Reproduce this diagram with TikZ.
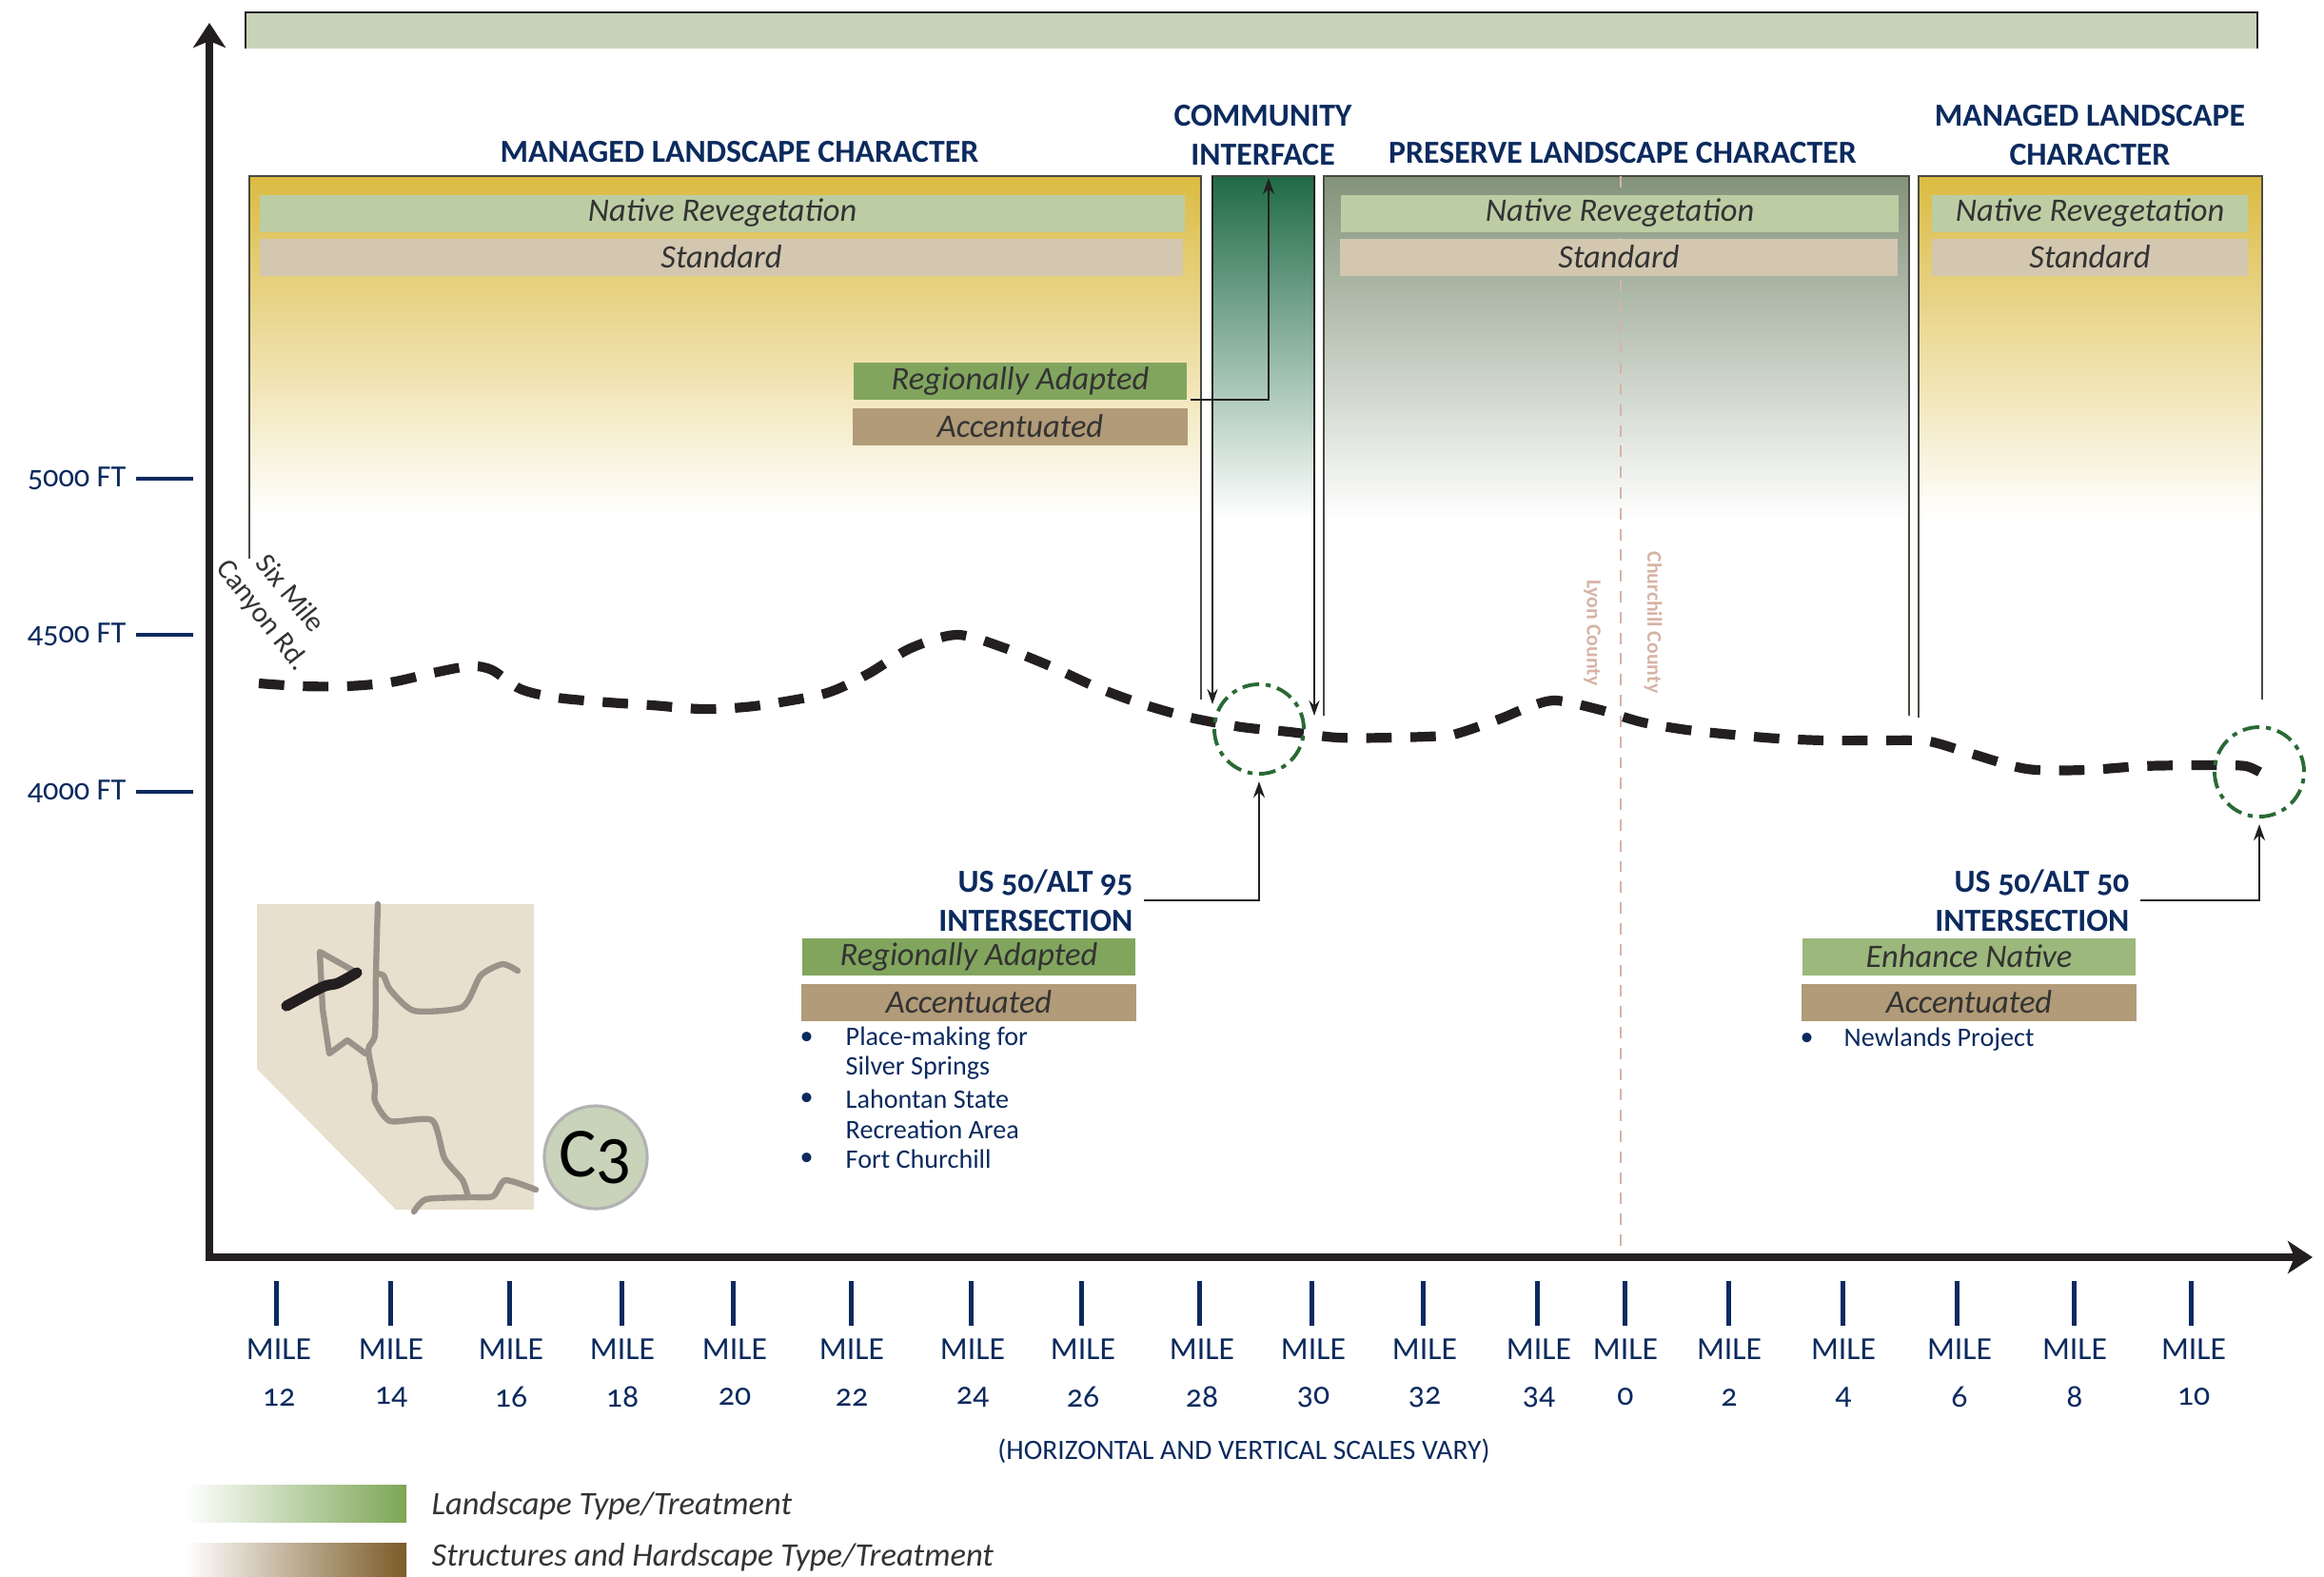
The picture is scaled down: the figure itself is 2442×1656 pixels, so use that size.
\documentclass[tikz,border=0pt]{standalone}
\usepackage{fontspec}
\setmainfont{Carlito}[Numbers=OldStyle]
\usetikzlibrary{arrows.meta}
\definecolor{navy}{HTML}{0B2A5E}
\definecolor{inkblack}{HTML}{231F20}
\definecolor{framegrey}{HTML}{4A4A42}
\definecolor{sage}{HTML}{C9D3BA}
\definecolor{nativegreen}{HTML}{BCCDA4}
\definecolor{standardtan}{HTML}{D3C7B0}
\definecolor{adaptedgreen}{HTML}{82A55E}
\definecolor{enhancegreen}{HTML}{9CB87C}
\definecolor{accentbrown}{HTML}{B19B78}
\definecolor{managedgold}{HTML}{DBBB42}
\definecolor{interfacegreen}{HTML}{1F6B45}
\definecolor{preservegrey}{HTML}{83937A}
\definecolor{countypink}{HTML}{D6B3A6}
\definecolor{circlegreen}{HTML}{2A6A35}
\definecolor{mapsand}{HTML}{E9DFCE}
\definecolor{roadgrey}{HTML}{9C9289}
\definecolor{legendbrown}{HTML}{7B5B28}
\definecolor{legendgreen}{HTML}{7CA655}
\tikzset{
  headlabel/.style={text=navy,align=center,font=\bfseries\fontsize{9.6}{11.7}\selectfont},
  barlabel/.style={inner sep=0pt,text=black!80,font=\itshape\fontsize{9.8}{11}\selectfont},
  frameline/.style={draw=framegrey,line width=.45pt},
  thinarrow/.style={draw=inkblack,line width=.5pt,-{Stealth[length=.16cm,width=.11cm]}},
  callarrow/.style={draw=inkblack,line width=.7pt,-{Stealth[length=.17cm,width=.12cm]}},
  spotcircle/.style={circle,draw=circlegreen,line width=1.1pt,minimum size=.94cm,inner sep=0pt,outer sep=0pt,
    dash pattern=on 5pt off 2pt on 1.5pt off 2pt},
  miletick/.style={fill=navy,inner sep=0pt,minimum width=.05cm,minimum height=.47cm},
  heighttick/.style={fill=navy,inner sep=0pt,minimum width=.6cm,minimum height=.04cm},
  notetext/.style={text=navy,anchor=west,inner sep=0pt,font=\fontsize{8}{10}\selectfont},
  maproad/.style={draw=roadgrey,line width=1.8pt,line cap=round,line join=round},
}
\begin{document}
\begin{tikzpicture}[x=0.01cm,y=-0.01cm]
  \useasboundingbox (0,0) rectangle (2442,1656);
  % band along the top
  \fill[sage] (258,13) rectangle (2372,51);
  \draw[draw=inkblack,line width=.6pt] (258,51) -- (258,13) -- (2372,13) -- (2372,51);
  % character zones
  \shade[top color=managedgold,bottom color=white] (262,185) rectangle (1262,541);
  \shade[top color=interfacegreen,bottom color=white] (1273,185) rectangle (1382,545);
  \shade[top color=preservegrey,bottom color=white] (1391,185) rectangle (2006,545);
  \shade[top color=managedgold,bottom color=white] (2016,185) rectangle (2377,545);
  \draw[frameline] (262,587) -- (262,185) -- (1262,185) -- (1262,735);
  \draw[frameline] (1391,752) -- (1391,185) -- (2006,185) -- (2006,752);
  \draw[frameline] (2016,754) -- (2016,185) -- (2377,185) -- (2377,735);
  \draw[frameline] (1273,185) -- (1382,185);
  \draw[thinarrow] (1274,185) -- (1274,740);
  \draw[thinarrow] (1381,185) -- (1381,752);
  \draw[countypink,line width=.6pt,dash pattern=on 3.4pt off 2.8pt] (1703,185) -- (1703,1318);
  \node[headlabel] (managedA) at (777,160) {MANAGED LANDSCAPE CHARACTER};
  \node[headlabel] (interface) at (1327,142) {COMMUNITY\\INTERFACE};
  \node[headlabel] (preserve) at (1705,161) {PRESERVE LANDSCAPE CHARACTER};
  \node[headlabel] (managedB) at (2196,142) {MANAGED LANDSCAPE\\CHARACTER};
  % treatment bars
  \foreach \name/\barcol/\x/\y/\w/\txt in {
    nativeA/nativegreen/759/224/9.71/Native Revegetation,
    standardA/standardtan/758/270/9.69/Standard,
    adaptedA/adaptedgreen/1072/400/3.50/Regionally Adapted,
    accentA/accentbrown/1072/448/3.52/Accentuated,
    nativeB/nativegreen/1702/224/5.86/Native Revegetation,
    standardB/standardtan/1701/270/5.86/Standard,
    nativeC/nativegreen/2196/224/3.31/Native Revegetation,
    standardC/standardtan/2196/270/3.31/Standard,
    adaptedB/adaptedgreen/1018/1005/3.50/Regionally Adapted,
    accentB/accentbrown/1018/1053/3.52/Accentuated,
    enhanceB/enhancegreen/2069/1005/3.50/Enhance Native,
    accentC/accentbrown/2069/1053/3.52/Accentuated}
    \node[barlabel,fill=\barcol,minimum width=\w cm,minimum height=.39cm] (\name) at (\x,\y) {\txt};
  \coordinate (interfaceTop) at (1333,187);
  \draw[callarrow] ([xshift=.03cm]adaptedA.south east) -| (interfaceTop);
  % county line labels
  \node[text=countypink,rotate=-90,font=\bfseries\fontsize{6.2}{7}\selectfont] (lyon) at (1673,665) {Lyon County};
  \node[text=countypink,rotate=-90,font=\bfseries\fontsize{6.2}{7}\selectfont] (churchill) at (1737,654) {Churchill County};
  % elevation line
  \draw[inkblack,line width=2.9pt,dash pattern=on 7.6pt off 5.6pt] plot[smooth,tension=.5] coordinates {
    (272,718) (318,721) (364,721) (410,717) (455,707) (494,700) (517,704) (547,724) (585,733)
    (639,738) (685,741) (739,745) (792,742) (853,732) (880,724) (914,707) (957,681) (1006,667)
    (1056,681) (1106,701) (1152,722) (1201,740) (1251,754) (1305,764) (1355,769) (1406,775)
    (1464,775) (1518,773) (1537,769) (1577,755) (1606,743) (1635,736) (1682,746) (1726,759)
    (1773,767) (1821,772) (1868,776) (1919,778) (1966,778) (2017,778) (2036,781) (2072,792)
    (2130,808) (2192,809) (2250,805) (2309,804) (2334,804) (2360,805) (2376,812)};
  \node[rotate=-51,inner sep=0pt,text=black!80,font=\fontsize{8.6}{10}\selectfont] (sixmile) at (306,623) {Six Mile};
  \node[rotate=-52,inner sep=0pt,text=black!80,font=\fontsize{8.6}{10}\selectfont] (canyon) at (275,647) {Canyon Rd.};
  \node[spotcircle] (spotA) at (1323,766) {};
  \node[spotcircle] (spotB) at (2374,811) {};
  % intersections
  \node[headlabel,align=right,anchor=east,inner sep=.11cm] (alt95) at (1202,946) {US 50/ALT 95\\INTERSECTION};
  \node[headlabel,align=right,anchor=east,inner sep=.11cm] (alt50) at (2249,946) {US 50/ALT 50\\INTERSECTION};
  \draw[callarrow,shorten >=.08cm] (alt95.east) -| (spotA.south);
  \draw[callarrow,shorten >=.08cm] (alt50.east) -| (spotB.south);
  \foreach \y/\txt in {1091/Place-making for,1122/Silver Springs,1155/Lahontan State,1187/Recreation Area,1218/Fort Churchill}
    \node[notetext] (note\y) at (888,\y) {\txt};
  \foreach \y in {1091,1155,1218}
    \node[notetext] (dot\y) at (840,\y) {•};
  \node[notetext] (newlands) at (1937,1092) {Newlands Project};
  \node[notetext] (dotC) at (1891,1092) {•};
  % location map
  \fill[mapsand] (270,950) -- (561,950) -- (561,1271) -- (416,1271) -- (270,1123) -- cycle;
  \draw[maproad] plot[smooth,tension=.4] coordinates {(397,950) (395,1023) (394,1087) (387,1103) (394,1140) (394,1157) (410,1178) (454,1177) (467,1217) (486,1240) (492,1258)};
  \draw[maproad] plot[smooth,tension=.4] coordinates {(395,1023) (403,1025) (410,1040) (435,1062) (486,1058) (505,1025) (528,1013) (544,1020)};
  \draw[maproad] (375,1022) -- (336,1000) -- (339,1060) -- (346,1107) -- (365,1093) -- (384,1107);
  \draw[maproad] plot[smooth,tension=.4] coordinates {(435,1273) (448,1260) (492,1258) (518,1257) (531,1240) (563,1250)};
  \draw[inkblack,line width=3.2pt,line cap=round] plot[smooth,tension=.5] coordinates {(301,1057) (339,1037) (355,1033) (375,1022)};
  \node[circle,fill=sage,draw=black!30,line width=.9pt,minimum size=1.08cm,inner sep=0pt,font=\fontsize{21}{24}\selectfont] (tag) at (626,1216) {C3};
  % axes
  \draw[inkblack,line width=2.1pt,{Stealth[length=.26cm,width=.34cm,inset=.07cm]}-{Stealth[length=.26cm,width=.34cm,inset=.07cm]}] (220,24) |- (2430,1321);
  \foreach \y/\txt in {503/5000 FT,667/4500 FT,832/4000 FT}{
    \node[heighttick] (tick\y) at (173,\y) {};
    \node[text=navy,font=\fontsize{9.2}{11}\selectfont,inner sep=0pt,anchor=east] (height\y) at (133,\y) {\txt};
  }
  \foreach \tx/\lx/\num in {290/293/12,410/411/14,535/537/16,653/654/18,770/772/20,894/895/22,1020/1022/24,1136/1138/26,1260/1263/28,
      1378/1380/30,1495/1497/32,1615/1617/34,1707/1708/0,1816/1817/2,1936/1937/4,2056/2059/6,2179/2180/8,2302/2305/10}{
    \node[miletick] (tick\num) at (\tx,1369) {};
    \node[text=navy,inner sep=0pt,font=\fontsize{9.6}{11}\selectfont] (mile\num) at (\lx,1418) {MILE};
    \node[text=navy,inner sep=0pt,font=\fontsize{9.6}{11}\selectfont] (num\num) at (\lx,1468) {\num};
  }
  \node[text=navy,font=\fontsize{8.4}{10}\selectfont] (scales) at (1307,1525) {(HORIZONTAL AND VERTICAL SCALES VARY)};
  % legend
  \shade[left color=white,right color=legendgreen] (195,1560) rectangle (427,1599);
  \shade[left color=white,right color=legendbrown] (195,1621) rectangle (427,1656);
  \node[barlabel,anchor=west] (landscape) at (453,1582) {Landscape Type/Treatment};
  \node[barlabel,anchor=west] (structures) at (453,1636) {Structures and Hardscape Type/Treatment};
\end{tikzpicture}
\end{document}
